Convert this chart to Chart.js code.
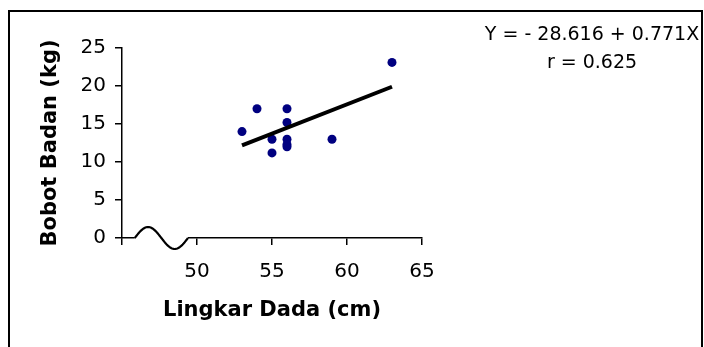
<!DOCTYPE html>
<html>
<head>
<meta charset="utf-8">
<title>Lingkar Dada vs Bobot Badan</title>
<script src="https://cdn.jsdelivr.net/npm/chart.js@4.4.1/dist/chart.umd.min.js"></script>
<style>
  body { margin: 0; background: #fff; }
  canvas { display: block; }
</style>
</head>
<body>
<canvas id="scatterChart" width="704" height="347"></canvas>
<script>
// Data
const lingkarDada = [53, 54, 55, 55, 56, 56, 56, 56, 56, 59, 63];
const bobotBadan = [14, 17, 13, 11.2, 17, 15.2, 13, 12.3, 12, 13, 23.1];

// Regression line end points (as drawn)
const trendX = [53, 63];
const trendY = [12.2, 19.9];

const xTicks = [45, 50, 55, 60, 65];
const yTicks = [0, 5, 10, 15, 20, 25];

const xTitle = "Lingkar Dada (cm)";
const yTitle = "Bobot Badan (kg)";
const equationText = "Y = - 28.616 + 0.771X";
const rText = "r = 0.625";

const FONT = "'DejaVu Sans', 'Liberation Sans', Arial, sans-serif";

function toPoints(xs, ys) {
  return xs.map((x, i) => ({ x: x, y: ys[i] }));
}

// Draws the axis break wave, the equation and the outer frame
const extrasPlugin = {
  id: "extras",
  afterDraw(chart) {
    const ctx = chart.ctx;
    const xs = chart.scales.x;
    const ys = chart.scales.y;
    const y0 = ys.getPixelForValue(0);
    const a = xs.getPixelForValue(45.85);
    const b = xs.getPixelForValue(49.4);

    ctx.save();
    // wipe the axis line under the break
    ctx.fillStyle = "#fff";
    ctx.fillRect(a, y0 - 2, b - a, 4);

    // wavy break
    ctx.beginPath();
    for (let i = 0; i <= 60; i++) {
      const px = a + ((b - a) * i) / 60;
      const py = y0 - 11 * Math.sin((2 * Math.PI * i) / 60);
      if (i === 0) ctx.moveTo(px, py);
      else ctx.lineTo(px, py);
    }
    ctx.lineWidth = 2.2;
    ctx.strokeStyle = "#000";
    ctx.stroke();

    // regression equation
    ctx.fillStyle = "#000";
    ctx.font = "19px " + FONT;
    ctx.textAlign = "center";
    ctx.textBaseline = "alphabetic";
    ctx.fillText(equationText, 592, 40);
    ctx.fillText(rText, 592, 67.5);

    // outer frame
    ctx.lineWidth = 2;
    ctx.strokeStyle = "#000";
    ctx.strokeRect(9, 11, 693, 360);
    ctx.restore();
  },
};

const ctx = document.getElementById("scatterChart").getContext("2d");
new Chart(ctx, {
  data: {
    datasets: [
      {
        type: "line",
        data: toPoints(trendX, trendY),
        borderColor: "#000",
        borderWidth: 4,
        pointRadius: 0,
        fill: false,
        order: 0,
      },
      {
        type: "scatter",
        data: toPoints(lingkarDada, bobotBadan),
        backgroundColor: "#000080",
        borderWidth: 0,
        pointRadius: 4.5,
        order: 1,
      },
    ],
  },
  options: {
    responsive: false,
    animation: false,
    layout: { padding: { left: 0, top: 48, right: 282, bottom: 0 } },
    plugins: {
      legend: { display: false },
      tooltip: { enabled: false },
    },
    scales: {
      x: {
        type: "linear",
        min: 45,
        max: 65,
        afterFit: (scale) => { scale.height = 109; },
        afterBuildTicks: (scale) => { scale.ticks = xTicks.map((v) => ({ value: v })); },
        grid: { display: true, drawOnChartArea: false, drawTicks: true, tickLength: 7, color: "#000", lineWidth: 1.5 },
        border: { display: true, color: "#000", width: 1.5 },
        ticks: {
          color: "#000",
          font: { family: FONT, size: 20 },
          padding: 15,
          maxRotation: 0,
          callback: (v) => (v === 45 ? "" : v),
        },
        title: {
          display: true,
          text: xTitle,
          color: "#000",
          font: { family: FONT, size: 21, weight: "bold" },
          padding: { top: 0, bottom: 24 },
        },
      },
      y: {
        type: "linear",
        min: 0,
        max: 25,
        afterFit: (scale) => { scale.width = 122; },
        afterBuildTicks: (scale) => { scale.ticks = yTicks.map((v) => ({ value: v })); },
        grid: { display: true, drawOnChartArea: false, drawTicks: true, tickLength: 7, color: "#000", lineWidth: 1.5 },
        border: { display: true, color: "#000", width: 1.5 },
        ticks: {
          color: "#000",
          font: { family: FONT, size: 20 },
          padding: 9,
        },
        title: {
          display: true,
          text: yTitle,
          color: "#000",
          font: { family: FONT, size: 21, weight: "bold" },
          padding: { top: 38, bottom: 0 },
        },
      },
    },
  },
  plugins: [extrasPlugin],
});
</script>
</body>
</html>
